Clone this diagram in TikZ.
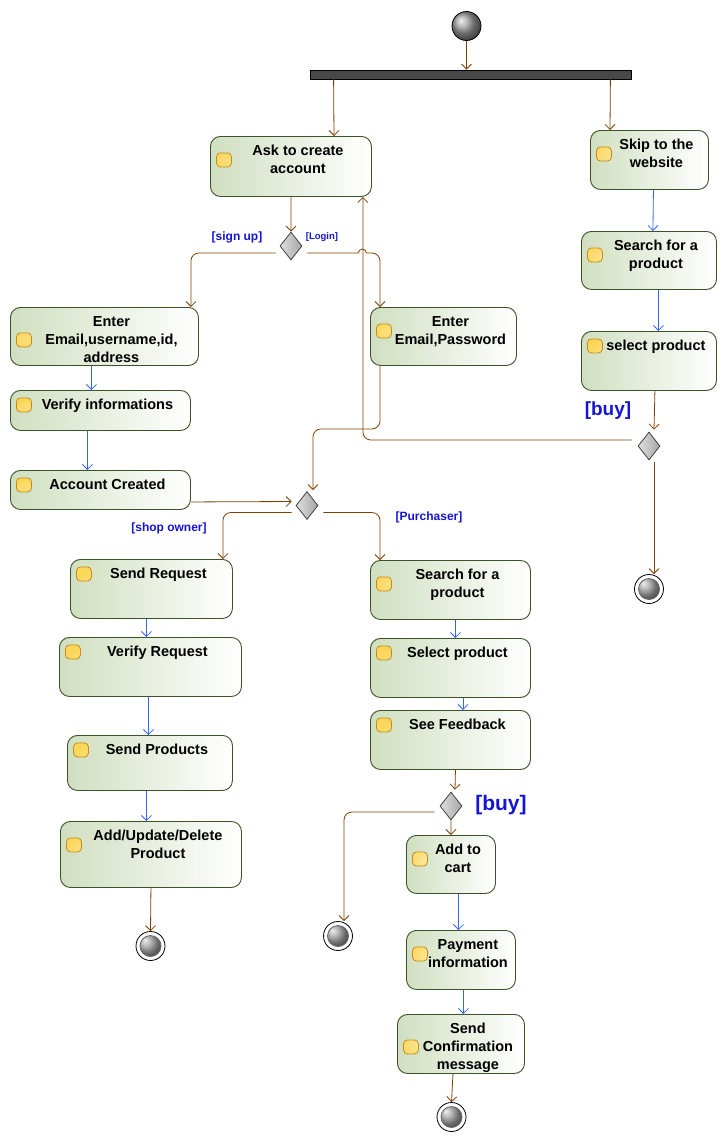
\documentclass[tikz,border=0pt]{standalone}
\usepackage{fontspec}
\setmainfont{Liberation Sans}
\usetikzlibrary{arrows.meta,shapes.geometric}
\definecolor{umlLine}{RGB}{60,82,40}
\definecolor{umlFill}{RGB}{208,223,192}
\definecolor{umlFlow}{RGB}{128,64,0}
\definecolor{umlBlue}{RGB}{50,100,255}
\definecolor{umlGuard}{RGB}{20,20,210}
\definecolor{umlPin}{RGB}{204,140,20}
\definecolor{umlPinFill}{RGB}{250,214,90}
\definecolor{umlBar}{RGB}{72,72,72}

% text block of an action, set at the top of a box of given width and height
\newcommand{\acttext}[3]{\parbox[c][#2][t]{#1}{\centering\leftskip=14pt plus 1fil\rule{0pt}{19pt}#3}}

\begin{document}
\begin{tikzpicture}[
  x=1pt, y=-1pt,
  font=\fontsize{14.5}{18}\selectfont\bfseries,
  act/.style = {rectangle, draw=umlLine, line width=0.9pt, rounded corners=10pt, inner sep=0pt,
                anchor=north west, left color=umlFill, right color=white,
                path picture={\draw[draw=umlPin, line width=0.8pt, rounded corners=4pt,
                  inner color=white, outer color=umlPinFill]
                  ([shift={(6pt,{-7.5pt-9pt*(#1-1)})}]path picture bounding box.north west)
                  rectangle ++(15pt,-14pt);}},
  act/.default = 1,
  decision/.style = {diamond, draw=black!75, line width=0.8pt, inner sep=0pt,
                     minimum width=22pt, minimum height=28pt,
                     left color=gray!25, right color=gray!70},
  start/.style = {circle, draw=black, line width=0.8pt, minimum size=29pt, inner sep=0pt,
                  ball color=gray!75},
  final/.style = {circle, draw=black, line width=0.8pt, fill=white, minimum size=29pt, inner sep=0pt,
                  path picture={\shadedraw[ball color=gray!80, draw=black!60]
                    (path picture bounding box.center) circle[radius=10.5pt];}},
  bar/.style = {rectangle, draw=black, line width=0.8pt, fill=umlBar, minimum width=321pt,
                minimum height=9pt, inner sep=0pt},
  guard/.style = {text=umlGuard, font=\fontsize{12}{14}\selectfont\bfseries, inner sep=0pt},
  flow/.style = {draw=umlFlow, line width=0.8pt,
                 -{Straight Barb[length=5pt,width=10pt]}},
  flowb/.style = {flow, draw=umlBlue}
]
\useasboundingbox (0,0) rectangle (727,1144);

% Start and fork
\node[start] (init) at (466.5,26) {};
\node[bar] (fork) at (470.5,74.5) {};

% Right column: visitor
\node[act=2] (skip)  at (590,130) {\acttext{118pt}{59pt}{Skip to the\\website}};
\node[act=2] (findR) at (581,231) {\acttext{135pt}{58pt}{Search for a\\product}};
\node[act]   (pickR) at (581,331) {\acttext{135pt}{59pt}{select product}};
\node[decision] (buyR)  at (649,446) {};
\node[final]    (doneR) at (649,589) {};

% Account
\node[act=2] (ask) at (210,136) {\acttext{161pt}{60pt}{Ask to create\\account}};
\node[decision] (signChoice) at (291,246) {};
\node[act=3] (regData)   at (10,307)  {\acttext{188pt}{58pt}{Enter\\Email,username,id,\\address}};
\node[act=2] (loginData) at (370,307) {\acttext{146pt}{58pt}{Enter\\Email,Password}};
\node[act]   (verify)    at (10,390)  {\acttext{180pt}{40pt}{Verify informations}};
\node[act]   (created)   at (10,470)  {\acttext{180pt}{39pt}{Account Created}};
\node[decision] (roleChoice) at (307,505.5) {};

% Shop owner
\node[act]   (sendReq)  at (70,559) {\acttext{162pt}{59pt}{Send Request}};
\node[act]   (verReq)   at (59,637) {\acttext{182pt}{59pt}{Verify Request}};
\node[act]   (sendProd) at (67,735) {\acttext{165pt}{55pt}{Send Products}};
\node[act=2] (editProd) at (60,821) {\acttext{181pt}{66pt}{Add/Update/Delete\\Product}};
\node[final] (doneL) at (150.5,946) {};

% Purchaser
\node[act=2] (findM)    at (370,560) {\acttext{160pt}{59pt}{Search for a\\product}};
\node[act]   (pickM)    at (370,638) {\acttext{160pt}{59pt}{Select product}};
\node[act]   (feedback) at (370,710) {\acttext{160pt}{59pt}{See Feedback}};
\node[decision] (buyM)  at (451,806) {};
\node[final]    (doneM) at (338,936) {};
\node[act=2] (cart)     at (406,835)  {\acttext{89pt}{58pt}{Add to\\cart}};
\node[act=2] (payment)  at (406,930)  {\acttext{109pt}{59pt}{Payment\\information}};
\node[act=3] (confirm)  at (397,1014) {\acttext{127pt}{59pt}{Send\\Confirmation\\message}};
\node[final] (doneB) at (451.5,1117) {};

% Guards
\node[guard] (gSign) at (237,237) {[sign up]};
\node[guard, font=\fontsize{9.5}{11}\selectfont\bfseries] (gLogin) at (322,237) {[Login]};
\node[guard] (gShop)  at (169,528) {[shop owner]};
\node[guard] (gBuyer) at (429,517) {[Purchaser]};
\node[guard, font=\fontsize{19}{22}\selectfont\bfseries] (gBuyR) at (608,411) {[buy]};
\node[guard, font=\fontsize{21}{24}\selectfont\bfseries] (gBuyM) at (501,805) {[buy]};

% Fork
\draw[flow] (init) -- (init |- fork.north);
\draw[flow] ([xshift=24pt]fork.south west) -- ([xshift=124pt]ask.north west);
\draw[flow] ([xshift=-21pt]fork.south east) -- ([xshift=20pt]skip.north west);

% Right column
\draw[flowb] ([xshift=4pt]skip.south) -- ([xshift=4pt]findR.north);
\draw[flowb] ([xshift=9.5pt]findR.south) -- ([xshift=9.5pt]pickR.north);
\draw[flow] ([xshift=6pt]pickR.south) -- ([shift={(5pt,2pt)}]buyR.north);
\draw[flow] ([shift={(5pt,-2pt)}]buyR.south) -- ([xshift=5pt]doneR.north);
\draw[flow, rounded corners=8pt] ([shift={(-6pt,6pt)}]buyR.west) -| ([xshift=-9pt]ask.south east);

% Account
\draw[flow] (ask.south) -- (signChoice.north);
\draw[flow, rounded corners=8pt] ([shift={(-4pt,-7pt)}]signChoice.west) -| ([xshift=-8pt]regData.north east);
\draw[flow] ([shift={(5pt,-7pt)}]signChoice.east) -- ++(51,0)
  arc[start angle=180, end angle=0, radius=4pt]
  [rounded corners=8pt] -| ([xshift=10pt]loginData.north west);
\draw[flowb] ([xshift=-13pt]regData.south) -- ([xshift=-9pt]verify.north);
\draw[flowb] ([xshift=-13pt]verify.south) -- ([xshift=-13pt]created.north);
\draw[flow] ([yshift=-12pt]created.east) -- ([shift={(-4pt,4pt)}]roleChoice.west);
\draw[flow, rounded corners=8pt] ([xshift=10pt]loginData.south west) -- ++(0,63)
  -| ([shift={(6pt,1pt)}]roleChoice.north);

% Roles
\draw[flow, rounded corners=8pt] ([shift={(-4pt,-7pt)}]roleChoice.west) -| ([xshift=-10pt]sendReq.north east);
\draw[flow, rounded corners=8pt] ([shift={(5pt,-7pt)}]roleChoice.east) -| ([xshift=10pt]findM.north west);

% Shop owner
\draw[flowb] ([xshift=-5pt]sendReq.south) -- ([xshift=-4pt]verReq.north);
\draw[flowb] ([xshift=-2pt]verReq.south) -- ([xshift=-1.5pt]sendProd.north);
\draw[flowb] ([xshift=-3.5pt]sendProd.south) -- ([xshift=-4.5pt]editProd.north);
\draw[flow] (editProd.south) -- (doneL.north);

% Purchaser
\draw[flowb] ([xshift=5pt]findM.south) -- ([xshift=5pt]pickM.north);
\draw[flowb] ([xshift=12.5pt]pickM.south) -- ([xshift=12.5pt]feedback.north);
\draw[flow] ([xshift=5pt]feedback.south) -- ([shift={(4pt,2pt)}]buyM.north);
\draw[flow] (buyM.south) -- (cart.north);
\draw[flow, rounded corners=8pt] ([shift={(-5pt,-6pt)}]buyM.west) -| ([xshift=6pt]doneM.north);
\draw[flowb] ([xshift=7.5pt]cart.south) -- ([xshift=-2.5pt]payment.north);
\draw[flowb] ([xshift=2.5pt]payment.south) -- ([xshift=2.5pt]confirm.north);
\draw[flow] ([xshift=-8pt]confirm.south) -- (doneB.north);

\end{tikzpicture}
\end{document}
